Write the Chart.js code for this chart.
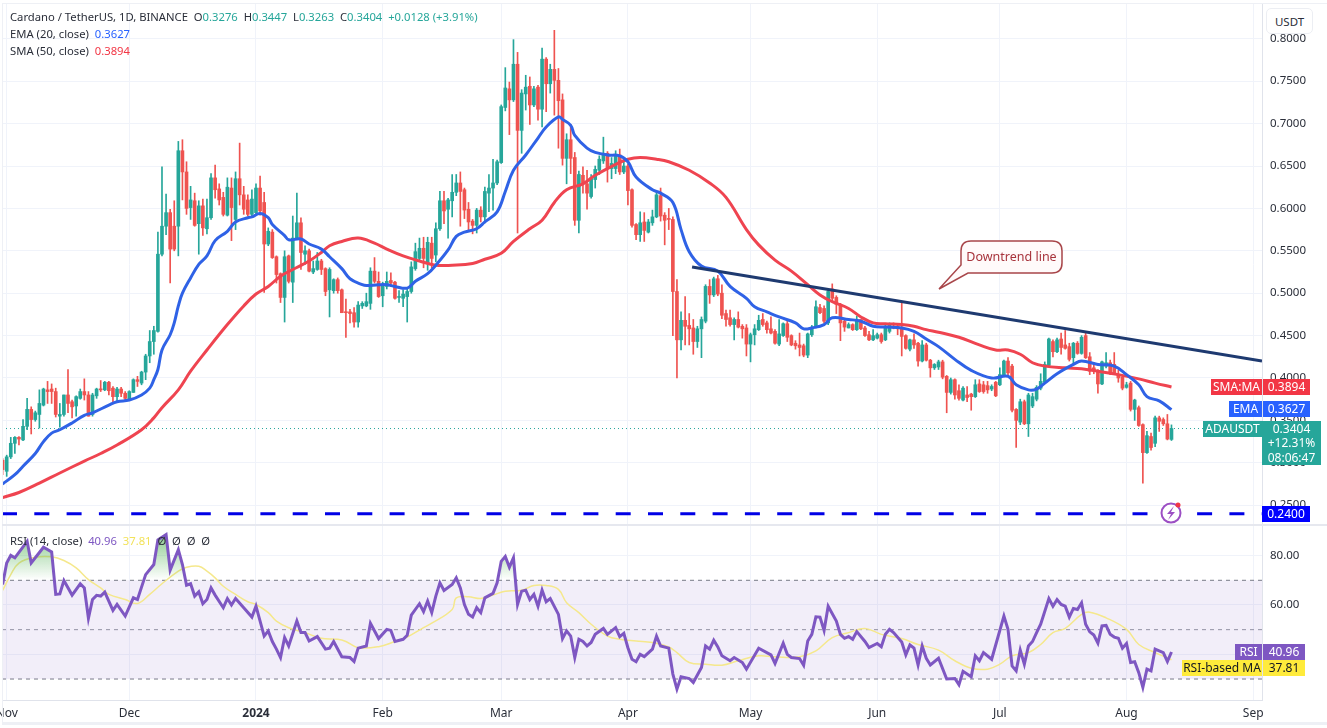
<!DOCTYPE html>
<html>
<head>
<meta charset="utf-8">
<title>ADAUSDT</title>
<script src="https://cdn.jsdelivr.net/npm/chart.js@4/dist/chart.umd.min.js"></script>
<style>
    html, body { margin: 0; padding: 0; background: #fff; overflow: hidden; }
    body { width: 1327px; height: 728px; position: relative; font-family: "Noto Sans", sans-serif; color: #2a2e39; }
    #priceBox { position: absolute; left: 0; top: 0; width: 1327px; height: 525px; }
    #rsiBox { position: absolute; left: 0; top: 526px; width: 1327px; height: 202px; }
    .frame { position: absolute; left: 2px; top: 3px; width: 1325px; height: 722px; border: solid #eef0f5; border-width: 1px 0 3px 1px; box-sizing: border-box; pointer-events: none; }
    .sep { position: absolute; left: 2px; top: 524px; width: 1325px; height: 2px; background: #e6e8ef; }
    .legend { position: absolute; left: 10px; font-size: 11.25px; line-height: 16px; white-space: pre; }
    .g { color: #26a69a; }
    .badge { position: absolute; height: 16px; line-height: 16px; font-size: 12px; color: #fff; text-align: center; white-space: pre; }
    .usdt { position: absolute; left: 1266px; top: 8px; width: 47px; height: 26px; line-height: 25px; background: #fff; border: 1px solid #eceef3; border-radius: 5px; text-align: center; font-size: 11.5px; box-sizing: border-box; }
    svg { position: absolute; left: 0; top: 0; }
</style>
</head>
<body>
<div id="priceBox"><canvas id="priceChart"></canvas></div>
<div id="rsiBox"><canvas id="rsiChart"></canvas></div>
<div class="frame"></div>
<div class="sep"></div>

<div class="legend" style="top:9px">Cardano / TetherUS, 1D, BINANCE  O<span class="g">0.3276</span>  H<span class="g">0.3447</span>  L<span class="g">0.3263</span>  C<span class="g">0.3404</span>  <span class="g">+0.0128 (+3.91%)</span></div>
<div class="legend" style="top:26px">EMA (20, close)  <span style="color:#2962ff">0.3627</span></div>
<div class="legend" style="top:43px">SMA (50, close)  <span style="color:#f23645">0.3894</span></div>
<div class="legend" style="top:533px">RSI (14, close)  <span style="color:#7e57c2">40.96</span>  <span style="color:#f2e25a">37.81</span>  Ø  Ø  Ø  Ø</div>

<div class="usdt">USDT</div>

<div class="badge" style="left:1211px;top:379px;width:51px;background:#f23645">SMA:MA</div>
<div class="badge" style="left:1263px;top:379px;width:47px;background:#f23645">0.3894</div>
<div class="badge" style="left:1229px;top:401px;width:33px;background:#2962ff">EMA</div>
<div class="badge" style="left:1263px;top:401px;width:47px;background:#2962ff">0.3627</div>
<div class="badge" style="left:1203px;top:421px;width:59px;background:#26a69a">ADAUSDT</div>
<div class="badge" style="left:1262px;top:421px;width:59px;height:43px;background:#26a69a;line-height:14.3px;padding-top:1px">0.3404
+12.31%
08:06:47</div>
<div class="badge" style="left:1262px;top:506px;width:48px;background:#0000ff">0.2400</div>
<div class="badge" style="left:1235px;top:644px;width:27px;background:#7e57c2">RSI</div>
<div class="badge" style="left:1263px;top:644px;width:42px;background:#7e57c2">40.96</div>
<div class="badge" style="left:1182px;top:660px;width:80px;background:#ffeb3b;color:#131722">RSI-based MA</div>
<div class="badge" style="left:1263px;top:660px;width:42px;background:#ffeb3b;color:#131722">37.81</div>

<svg width="1327" height="728">
    <path d="M971,241 H1052 Q1062,241 1062,251 V263 Q1062,273 1052,273 H968 L939,289 L961,265 V251 Q961,241 971,241 Z" fill="#fffafa" stroke="#a8464a" stroke-width="1.5"/>
    <text x="1011.5" y="261" text-anchor="middle" font-family="Noto Sans" font-size="12.5" fill="#a8343c">Downtrend line</text>
    <circle cx="1171" cy="513" r="9.5" fill="#fff" stroke="#9c4fc4" stroke-width="2"/>
    <path d="M1174,506 L1167,514 H1171 L1168,520 L1175,512 H1171 Z" fill="#9c4fc4"/>
    <circle cx="1178" cy="505" r="2.5" fill="#f23645"/>
</svg>

<script>
// OHLC per day, first candle is 31 Oct 2023, last is 12 Aug 2024
const opens = [
    .303,.290,.307,.323,.330,.327,.343,.363,.351,.357,
    .368,.386,.387,.384,.355,.357,.380,.372,.367,.376,
    .384,.380,.357,.379,.387,.386,.395,.388,.378,.387,
    .382,.375,.383,.398,.394,.407,.426,.443,.455,.546,
    .579,.595,.579,.579,.668,.643,.601,.609,.582,.603,
    .576,.589,.636,.623,.613,.592,.624,.587,.635,.616,
    .610,.593,.595,.624,.607,.558,.572,.543,.523,.495,
    .544,.513,.565,.583,.546,.550,.525,.528,.538,.529,
    .504,.503,.516,.504,.478,.478,.477,.466,.485,.485,
    .488,.526,.514,.497,.508,.515,.513,.495,.494,.496,
    .502,.529,.541,.553,.535,.559,.545,.576,.609,.599,
    .609,.619,.630,.622,.599,.585,.580,.598,.590,.618,
    .624,.630,.654,.719,.741,.728,.770,.692,.735,.744,
    .722,.743,.717,.776,.747,.764,.751,.728,.659,.681,
    .660,.586,.639,.629,.614,.634,.645,.656,.665,.647,
    .647,.663,.643,.650,.622,.581,.569,.584,.572,.583,
    .590,.615,.592,.588,.587,.502,.445,.468,.462,.459,
    .443,.458,.467,.508,.498,.517,.500,.476,.471,.463,
    .469,.461,.459,.440,.451,.457,.469,.465,.458,.455,
    .440,.450,.464,.450,.441,.439,.438,.427,.451,.460,
    .483,.482,.465,.505,.495,.486,.467,.459,.463,.457,
    .469,.459,.451,.445,.447,.451,.445,.455,.461,.461,
    .460,.450,.434,.445,.441,.420,.439,.421,.412,.413,
    .419,.402,.383,.398,.385,.374,.380,.381,.378,.393,
    .392,.391,.387,.395,.392,.403,.420,.414,.363,.348,
    .372,.346,.367,.375,.388,.395,.415,.443,.431,.446,
    .439,.437,.424,.441,.429,.450,.425,.412,.408,.393,
    .414,.418,.416,.404,.401,.389,.394,.363,.365,.345,
    .312,.331,.323,.353,.351,.346,.3276
];
const highs = [
    .305,.309,.330,.331,.331,.351,.376,.366,.361,.386,
    .388,.396,.393,.388,.370,.380,.410,.374,.379,.387,
    .399,.384,.382,.388,.397,.396,.396,.390,.389,.389,
    .384,.385,.399,.402,.408,.428,.456,.461,.572,.649,
    .617,.599,.609,.679,.681,.655,.626,.618,.609,.611,
    .611,.641,.651,.629,.619,.636,.636,.643,.677,.626,
    .616,.622,.629,.638,.619,.577,.575,.544,.524,.550,
    .545,.591,.618,.589,.556,.552,.538,.548,.540,.530,
    .530,.517,.518,.505,.493,.481,.483,.490,.490,.500,
    .530,.542,.525,.513,.525,.524,.514,.503,.504,.505,
    .537,.559,.565,.566,.566,.566,.583,.620,.620,.612,
    .640,.640,.643,.624,.607,.587,.600,.602,.625,.640,
    .658,.657,.722,.766,.749,.799,.784,.740,.757,.755,
    .744,.745,.789,.778,.770,.810,.765,.735,.688,.699,
    .666,.644,.649,.645,.640,.650,.662,.684,.667,.660,
    .668,.670,.655,.652,.623,.582,.596,.595,.587,.598,
    .620,.624,.595,.600,.590,.516,.478,.496,.476,.469,
    .461,.472,.510,.516,.519,.521,.510,.480,.480,.471,
    .478,.463,.463,.453,.463,.474,.476,.467,.472,.457,
    .469,.465,.469,.451,.444,.453,.440,.453,.462,.491,
    .487,.485,.505,.511,.497,.488,.469,.465,.464,.473,
    .469,.461,.455,.457,.453,.453,.463,.465,.465,.463,
    .490,.451,.446,.452,.442,.444,.441,.422,.417,.421,
    .421,.403,.400,.399,.392,.390,.390,.382,.398,.398,
    .396,.396,.392,.396,.412,.421,.424,.416,.364,.375,
    .374,.382,.382,.391,.405,.419,.447,.445,.447,.453,
    .456,.441,.442,.443,.450,.454,.430,.418,.410,.420,
    .430,.421,.430,.409,.402,.395,.396,.375,.367,.346,
    .337,.335,.355,.355,.353,.357,.3447
];
const lows = [
    .286,.284,.305,.311,.321,.326,.339,.334,.349,.341,
    .367,.370,.370,.354,.342,.355,.359,.353,.355,.375,
    .374,.355,.355,.376,.384,.385,.380,.372,.373,.378,
    .374,.374,.383,.390,.392,.398,.418,.428,.454,.544,
    .569,.512,.550,.544,.610,.593,.587,.579,.546,.568,
    .570,.587,.612,.604,.591,.591,.562,.575,.604,.593,
    .591,.591,.592,.592,.501,.556,.541,.512,.489,.466,
    .512,.489,.563,.528,.534,.525,.523,.527,.522,.497,
    .472,.500,.500,.477,.448,.465,.460,.460,.482,.484,
    .481,.512,.495,.484,.505,.508,.493,.489,.484,.466,
    .500,.527,.538,.530,.527,.530,.537,.574,.582,.565,
    .590,.615,.579,.588,.574,.570,.571,.584,.583,.596,
    .598,.628,.653,.715,.687,.726,.571,.665,.716,.699,
    .720,.704,.696,.714,.736,.710,.671,.651,.629,.641,
    .580,.571,.618,.599,.612,.624,.640,.653,.631,.635,
    .641,.640,.641,.604,.578,.563,.561,.561,.571,.580,
    .589,.585,.557,.575,.450,.400,.433,.439,.439,.428,
    .436,.424,.465,.488,.496,.497,.470,.461,.461,.445,
    .459,.447,.426,.419,.439,.456,.461,.453,.452,.440,
    .438,.449,.443,.438,.434,.426,.425,.424,.449,.459,
    .476,.465,.463,.490,.476,.444,.455,.459,.456,.456,
    .457,.449,.444,.444,.446,.441,.444,.453,.458,.451,
    .426,.434,.432,.435,.414,.419,.420,.401,.410,.410,
    .399,.359,.381,.375,.374,.373,.372,.362,.377,.383,
    .382,.382,.385,.378,.391,.402,.404,.360,.318,.345,
    .345,.331,.365,.373,.386,.394,.414,.425,.430,.428,
    .434,.420,.416,.428,.428,.423,.404,.405,.382,.392,
    .412,.404,.405,.395,.386,.388,.361,.350,.343,.276,
    .311,.315,.319,.337,.344,.327,.3263
];
const closes = [
    .292,.307,.323,.330,.328,.343,.363,.351,.359,.370,
    .387,.384,.384,.357,.357,.380,.370,.366,.378,.384,
    .380,.355,.380,.387,.386,.395,.385,.378,.387,.382,
    .376,.384,.398,.396,.407,.426,.443,.456,.546,.579,
    .595,.552,.552,.668,.643,.600,.610,.580,.603,.577,
    .589,.636,.622,.610,.593,.625,.601,.635,.616,.599,
    .593,.611,.624,.597,.558,.573,.542,.522,.495,.543,
    .514,.565,.583,.548,.550,.526,.529,.538,.528,.502,
    .528,.516,.503,.477,.477,.476,.466,.486,.488,.490,
    .526,.514,.496,.510,.514,.512,.494,.496,.499,.502,
    .531,.549,.553,.541,.560,.541,.576,.609,.597,.610,
    .619,.630,.620,.598,.584,.580,.598,.590,.620,.624,
    .630,.655,.720,.742,.728,.770,.692,.736,.743,.722,
    .741,.717,.776,.747,.764,.751,.727,.659,.681,.659,
    .586,.640,.629,.618,.636,.646,.658,.665,.647,.653,
    .663,.643,.650,.621,.580,.569,.583,.574,.584,.590,
    .616,.591,.586,.587,.502,.445,.468,.461,.458,.443,
    .458,.469,.508,.498,.517,.499,.474,.469,.463,.469,
    .460,.458,.440,.451,.458,.468,.463,.457,.453,.441,
    .452,.464,.448,.439,.438,.436,.427,.452,.460,.484,
    .477,.467,.502,.494,.487,.465,.460,.463,.457,.469,
    .458,.450,.445,.450,.451,.443,.461,.463,.459,.458,
    .449,.435,.445,.439,.420,.439,.421,.412,.416,.419,
    .401,.383,.398,.380,.376,.388,.377,.378,.392,.384,
    .384,.386,.390,.379,.404,.420,.406,.362,.350,.372,
    .346,.380,.378,.389,.396,.416,.446,.431,.445,.436,
    .435,.422,.441,.429,.448,.424,.408,.408,.393,.419,
    .418,.406,.406,.400,.388,.392,.363,.374,.344,.312,
    .332,.318,.353,.349,.346,.328,.3404
];

// moving averages, read at the days where the curve bends
const emaDays = [0,3,5,8,10,12,14,17,20,22,26,28,31,34,36,37,38,39,41,42,43,44,46,48,50,52,55,57,60,61,63,65,66,69,70,73,75,78,80,
    83,85,88,89,92,94,96,99,101,104,106,109,111,113,116,118,121,123,125,128,131,133,136,137,139,140,143,145,148,151,153,155,159,161,164,
    166,168,171,175,178,182,184,187,190,194,196,198,201,203,207,210,213,216,220,223,226,229,233,237,242,246,248,251,253,255,258,262,264,268,272,275,278,280,283,286];
const emaValues = [.275,.286,.296,.311,.325,.335,.339,.347,.356,.359,.368,.372,.374,.380,.388,.398,.410,.433,.451,.465,.485,.500,.518,.534,.544,.562,.573,.584,.589,.590,.594,.589,.581,.568,.563,.564,.558,.552,.543,
    .529,.517,.510,.509,.510,.510,.508,.506,.514,.523,.533,.551,.567,.572,.576,.584,.596,.620,.645,.663,.683,.696,.708,.705,.698,.686,.671,.666,.663,.662,.655,.637,.622,.618,.607,
    .575,.549,.532,.526,.508,.494,.484,.478,.472,.465,.458,.459,.463,.471,.469,.467,.461,.460,.459,.455,.446,.437,.422,.409,.400,.402,.392,.386,.387,.394,.405,.416,.420,.416,.414,.404,.392,.378,.373,.3627];
const smaDays = [0,4,9,14,20,24,28,34,37,39,43,46,50,55,59,62,65,68,71,75,78,80,83,87,91,94,98,102,106,110,115,118,122,125,129,132,135,138,142,145,150,153,156,160,163,
    168,173,177,182,185,189,193,197,200,203,207,210,213,216,220,223,226,229,234,239,243,246,249,252,255,260,264,268,273,278,282,286];
const smaValues = [.259,.265,.276,.288,.302,.311,.321,.339,.353,.365,.386,.408,.433,.463,.485,.499,.508,.520,.528,.538,.548,.556,.561,.565,.559,.552,.544,.538,.533,.533,.535,.540,.547,.561,.576,.586,.607,.622,.629,.639,.652,.658,.660,.658,.655,
    .645,.630,.613,.575,.557,.539,.526,.510,.498,.490,.482,.472,.465,.464,.463,.461,.457,.454,.448,.439,.433,.433,.428,.418,.414,.412,.411,.408,.404,.399,.394,.3894];

// RSI(14) and its moving average
const rsiDays = [0,1,2,3,6,7,10,12,13,14,15,17,19,20,21,22,23,24,25,27,28,30,32,33,35,37,38,40,41,43,44,45,46,47,48,49,50,51,52,54,55,56,57,59,61,62,64,65,66,67,68,69,70,72,73,74,75,77,79,80,81,83,85,86,87,89,90,92,94,95,96,98,99,100,102,103,104,105,106,107,108,110,
    111,112,113,114,115,116,117,118,120,121,122,123,124,125,126,127,128,129,130,131,132,133,134,136,137,138,139,140,141,142,143,144,145,147,148,150,151,152,153,154,155,156,157,159,160,161,163,164,165,166,168,169,171,172,173,174,175,176,178,179,181,182,185,188,189,191,192,193,195,196,197,198,199,200,201,202,204,205,206,207,208,209,211,212,214,215,216,217,218,220,
    221,222,223,224,225,226,227,229,231,233,234,235,237,238,239,240,242,245,246,247,248,249,250,251,252,253,254,256,257,258,259,260,261,262,263,264,265,266,267,268,269,270,271,272,273,274,275,276,277,278,279,280,281,282,284,285,286];
const rsiValues = [68.3,77.0,80.1,79.1,85.8,77.0,83.4,81.5,64.3,64.5,69.9,64.0,68.6,66.9,54.6,62.2,63.9,63.6,65.2,57.8,60.2,55.5,62.9,62.2,72.3,76.4,86.4,88.5,74.1,82.4,76.4,68.0,68.6,63.6,65.3,60.5,62.2,66.9,64.0,58.9,62.6,60.0,62.6,58.9,55.1,59.5,47.4,49.5,45.2,42.1,38.7,46.8,43.4,53.5,48.8,48.8,45.4,47.2,42.1,42.5,45.2,39.0,38.7,37.1,42.5,43.4,52.6,46.4,50.1,49.7,45.2,46.1,47.7,55.9,60.5,57.3,61.6,56.9,63.6,69.0,65.9,68.3,
    71.0,66.9,60.2,56.2,55.1,58.9,56.9,62.9,64.7,69.0,77.7,79.7,75.3,79.1,60.2,65.6,66.0,62.2,64.3,59.5,66.0,61.3,62.6,56.2,46.4,49.5,47.4,38.7,46.1,45.2,43.4,44.8,48.1,50.5,48.1,50.8,47.2,48.5,42.7,38.0,37.0,40.0,39.1,42.1,47.4,43.4,42.5,32.0,25.9,30.9,30.2,28.6,34.7,43.4,42.1,45.7,43.0,39.4,37.4,38.7,36.7,34.0,42.5,39.8,36.3,44.5,40.0,38.7,38.3,35.6,45.4,48.1,55.2,55.1,49.7,59.5,53.5,48.1,46.5,47.2,46.1,49.2,45.2,42.7,44.4,43.1,48.1,50.1,48.8,45.0,
    39.8,43.8,42.5,35.7,43.4,38.4,35.7,38.4,30.0,30.2,27.7,33.1,30.9,39.4,37.4,40.7,38.0,55.5,50.1,35.3,33.3,41.7,36.0,43.4,45.2,48.8,52.2,62.6,59.5,62.2,60.2,59.5,55.1,58.6,58.2,60.9,52.2,49.1,47.8,44.5,51.5,51.7,48.1,47.0,46.5,42.5,44.4,36.7,37.0,32.6,26.6,34.0,33.3,42.1,40.7,37.1,40.96];
const maDays = [0,2,4,8,12,15,18,21,24,26,30,33,36,39,43,45,48,50,52,54,57,60,62,65,67,70,74,78,82,84,87,92,96,99,103,105,110,
    111,114,117,120,123,127,130,133,136,138,141,144,148,151,155,159,163,165,168,172,176,180,185,189,195,199,203,207,211,215,220,
    224,229,233,237,241,244,247,251,254,257,260,264,266,270,275,278,282,286];
const maValues = [65.9,72.3,77.0,79.3,79.5,78.0,75.0,70.3,66.9,64.3,62.2,60.6,64.3,68.6,73.7,75.3,75.7,73.7,71.0,67.6,64.3,61.3,60.2,56.9,53.5,50.8,48.8,46.5,46.1,45.2,42.7,43.1,45.2,47.0,50.8,52.6,58.2,
    62.9,63.3,62.6,64.0,65.6,66.0,67.9,67.9,66.3,60.9,56.9,52.2,47.4,46.1,45.4,44.8,43.0,40.7,36.7,36.0,35.6,37.4,39.4,39.0,39.0,41.4,46.8,48.8,50.5,48.1,46.4,
    44.0,41.7,37.4,34.4,34.0,36.0,39.4,40.7,44.0,48.8,50.5,56.2,57.1,54.8,50.1,44.0,40.7,37.81];

// levels and axis ticks
const trendDays = [168.7, 308.15];
const trendValues = [.5309, .4200];
const supportLevel = .24;
const lastPrice = .3404;
const priceTicks = [.25, .30, .35, .40, .45, .50, .55, .60, .65, .70, .75, .80];
const rsiTicks = [40, 60, 80];
const rsiBands = [70, 50, 30];
const monthDays = [1, 31, 62, 93, 122, 153, 183, 214, 244, 275, 306];
const monthLabels = ["Nov", "Dec", "2024", "Feb", "Mar", "Apr", "May", "Jun", "Jul", "Aug", "Sep"];

const UP = "#26a69a", DOWN = "#ef5350";
const GRID = "#f0f3fa", AXIS = "#e0e3eb";
const X_MIN = -0.147, X_MAX = 308.15;
const TICK_FONT = { family: "Noto Sans", size: 11.5 };

function toPoints(days, values) {
    return days.map((d, i) => ({ x: d, y: values[i] }));
}

function candleColor(ctx) {
    return closes[ctx.dataIndex] >= opens[ctx.dataIndex] ? UP : DOWN;
}

function flatLine(value, color, width, dash, order) {
    return {
        type: "line",
        data: toPoints([X_MIN, X_MAX], [value, value]),
        borderColor: color,
        borderWidth: width,
        borderDash: dash,
        pointRadius: 0,
        order: order,
    };
}

function curve(days, values, color, width, order) {
    return {
        type: "line",
        data: toPoints(days, values),
        borderColor: color,
        borderWidth: width,
        pointRadius: 0,
        tension: 0.4,
        order: order,
    };
}

function monthAxis(showLabels) {
    return {
        type: "linear",
        offset: false,
        min: X_MIN,
        max: X_MAX,
        afterBuildTicks: (scale) => { scale.ticks = monthDays.map(d => ({ value: d })); },
        afterFit: (scale) => {
            scale.paddingLeft = 0;
            scale.paddingRight = 0;
            scale.height = showLabels ? 28 : 0;
        },
        grid: { color: GRID, drawTicks: false, offset: false },
        border: { display: showLabels, color: AXIS },
        ticks: {
            display: showLabels,
            autoSkip: false,
            maxRotation: 0,
            padding: 6,
            color: "#2a2e39",
            font: (ctx) => ({ ...TICK_FONT, size: 12, weight: monthLabels[ctx.index] === "2024" ? "bold" : "normal" }),
            callback: (v, i) => monthLabels[i],
        },
    };
}

function valueAxis(min, max, tickList, digits) {
    return {
        position: "right",
        min: min,
        max: max,
        afterBuildTicks: (scale) => { scale.ticks = tickList.map(v => ({ value: v })); },
        afterFit: (scale) => {
            scale.width = 65;
            scale.paddingTop = 0;
            scale.paddingBottom = 0;
        },
        grid: { color: GRID, drawTicks: false },
        border: { color: AXIS },
        ticks: {
            autoSkip: false,
            padding: 8,
            color: "#2a2e39",
            font: TICK_FONT,
            callback: (v) => v.toFixed(digits),
        },
    };
}

const days = opens.map((o, i) => i);

// 1. price panel
new Chart(document.getElementById("priceChart"), {
    data: {
        datasets: [
            {
                type: "bar",
                data: days.map(i => ({ x: i, y: [lows[i], highs[i]] })),
                backgroundColor: candleColor,
                barThickness: 1,
                grouped: false,
                order: 6,
            },
            {
                type: "bar",
                data: days.map(i => ({ x: i, y: [opens[i], closes[i]] })),
                backgroundColor: candleColor,
                barThickness: 3,
                minBarLength: 1,
                grouped: false,
                order: 5,
            },
            curve(smaDays, smaValues, "#ef4450", 3, 4),
            curve(emaDays, emaValues, "#2f62e6", 3, 3),
            {
                type: "line",
                data: toPoints(trendDays, trendValues),
                borderColor: "#1e3a70",
                borderWidth: 3,
                pointRadius: 0,
                order: 2,
            },
            flatLine(supportLevel, "#0000e6", 3, [15, 17.3], 1),
            flatLine(lastPrice, UP, 1, [1, 3], 7),
        ],
    },
    options: {
        responsive: true,
        maintainAspectRatio: false,
        animation: false,
        layout: { padding: { left: 2, top: 4, right: 0, bottom: 0 } },
        plugins: { legend: { display: false }, tooltip: { enabled: false } },
        scales: {
            x: monthAxis(false),
            y: valueAxis(.22665, .84104, priceTicks, 4),
        },
    },
});

// 2. RSI panel
const rsiCtx = document.getElementById("rsiChart").getContext("2d");
const overbought = rsiCtx.createLinearGradient(0, 8, 0, 54);
overbought.addColorStop(0, "rgba(76,175,80,0.65)");
overbought.addColorStop(1, "rgba(76,175,80,0)");

new Chart(rsiCtx, {
    data: {
        datasets: [
            {
                ...curve(rsiDays, rsiValues, "#7e57c2", 3, 1),
                tension: 0,
                fill: { target: { value: 70 }, above: overbought, below: "rgba(0,0,0,0)" },
            },
            curve(maDays, maValues, "#f5e88c", 1.5, 2),
            {
                ...flatLine(rsiBands[0], "#787b86", 1, [4, 4], 3),
                fill: { target: { value: rsiBands[2] }, above: "rgba(126,87,194,0.1)", below: "rgba(126,87,194,0.1)" },
            },
            flatLine(rsiBands[1], "#9598a1", 1, [4, 4], 3),
            flatLine(rsiBands[2], "#787b86", 1, [4, 4], 3),
        ],
    },
    options: {
        responsive: true,
        maintainAspectRatio: false,
        animation: false,
        layout: { padding: { left: 2, top: 0, right: 0, bottom: 0 } },
        plugins: { legend: { display: false }, tooltip: { enabled: false } },
        scales: {
            x: monthAxis(true),
            y: valueAxis(21.5, 92, rsiTicks, 2),
        },
    },
});
</script>
</body>
</html>
